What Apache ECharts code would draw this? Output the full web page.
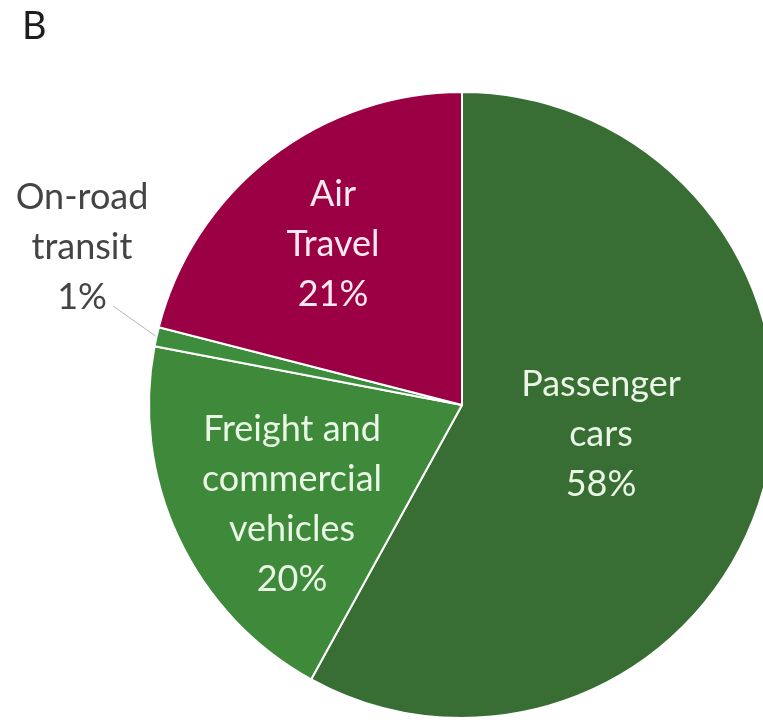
<!DOCTYPE html>
<html>
<head>
<meta charset="utf-8">
<script src="https://cdn.jsdelivr.net/npm/echarts@6/dist/echarts.min.js"></script>
<style>
  html, body { margin: 0; padding: 0; background: #fff; }
  #chart { width: 763px; height: 723px; }
</style>
</head>
<body>
<div id="chart"></div>
<script>
// Transport emissions share by mode
const categories = ['Passenger\ncars', 'Freight and\ncommercial\nvehicles', 'On-road\ntransit', 'Air\nTravel'];
const shares = [58, 20, 1, 21];
const sliceColors = ['#386e33', '#3e8a3a', '#3d8d3c', '#9c0044'];
const labelColors = ['#eaf7e6', '#eaf7e6', '#444444', '#fdeaf1'];

// label anchor points (pixel centres of each text block)
const labelSpots = [[601, 434], [292, 504], [82, 247], [333, 244]];
const leaderEnd = [113, 306];

const chart = echarts.init(document.getElementById('chart'), null, { renderer: 'canvas' });

const data = categories.map((name, i) => ({
  name: name,
  value: shares[i],
  itemStyle: { color: sliceColors[i] },
  label: {
    show: true,
    position: i === 2 ? 'outside' : 'inside',
    color: labelColors[i]
  },
  labelLine: { show: i === 2, lineStyle: { color: '#b5b5b5', width: 1 } }
}));

chart.setOption({
  animation: false,
  title: {
    text: 'B',
    left: 17,
    top: 3,
    textStyle: { fontFamily: 'Lato', fontWeight: 'normal', fontSize: 38, color: '#1e1e1e' }
  },
  series: [{
    type: 'pie',
    center: [462, 405],
    radius: [0, 313],
    startAngle: 90,
    clockwise: true,
    avoidLabelOverlap: false,
    itemStyle: { borderColor: '#ffffff', borderWidth: 2 },
    label: {
      formatter: p => p.name + '\n' + p.value + '%',
      fontFamily: 'Lato',
      fontSize: 36,
      lineHeight: 50,
      align: 'center'
    },
    labelLine: { length: 10, length2: 10 },
    labelLayout: function (params) {
      const spot = labelSpots[params.dataIndex];
      const out = { x: spot[0], y: spot[1], align: 'center', verticalAlign: 'middle' };
      if (params.dataIndex === 2 && params.labelLinePoints) {
        out.labelLinePoints = [params.labelLinePoints[0], leaderEnd];
      }
      return out;
    },
    data: data
  }]
});
</script>
</body>
</html>
